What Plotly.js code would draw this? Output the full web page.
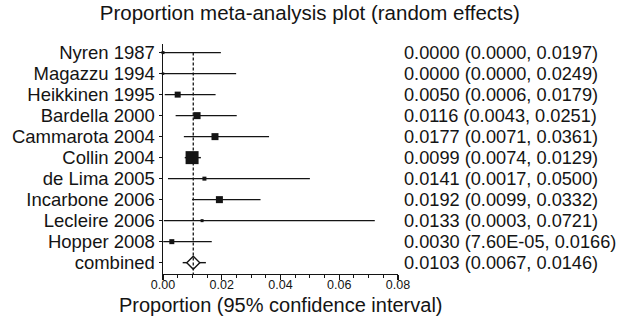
<!DOCTYPE html>
<html>
<head>
<meta charset="utf-8">
<script src="https://cdn.plot.ly/plotly-3.0.1.min.js"></script>
<style>html,body{margin:0;padding:0;background:#fff;}#chart{width:631px;height:322px;}</style>
</head>
<body>
<div id="chart"></div>
<script>
const studies = ["Nyren 1987","Magazzu 1994","Heikkinen 1995","Bardella 2000","Cammarota 2004","Collin 2004","de Lima 2005","Incarbone 2006","Lecleire 2006","Hopper 2008"];
const estimate = [0.0000,0.0000,0.0050,0.0116,0.0177,0.0099,0.0141,0.0192,0.0133,0.0030];
const lower    = [0.0000,0.0000,0.0006,0.0043,0.0071,0.0074,0.0017,0.0099,0.0003,0.0000760];
const upper    = [0.0197,0.0249,0.0179,0.0251,0.0361,0.0129,0.0500,0.0332,0.0721,0.0166];
const combinedLabel = "combined";
const combinedEst = 0.0103, combinedLo = 0.0067, combinedHi = 0.0146;
const xTickVals = [0,0.02,0.04,0.06,0.08];
const xAxisTitle = "Proportion (95% confidence interval)";
const chartTitle = "Proportion meta-analysis plot (random effects)";

const markerSizes = [3,2.5,6,7,7,13,4,7,3,5];
const ink = "#141414";
const FONT = "Liberation Sans, Arial, Helvetica, sans-serif";

function fmt(v){
  if (v > 0 && v < 0.0001){
    const e = v.toExponential(2).toUpperCase();
    return e.replace(/E([+-])(\d)$/, "E$10$2");
  }
  return v.toFixed(4);
}

const rows = studies.map((s,i)=>i);
const comboRow = studies.length;

const traces = [
  {
    type: "scatter", mode: "markers",
    x: estimate, y: rows,
    marker: {symbol: "square", size: markerSizes, color: ink, opacity: 1, line: {width: 0}},
    error_x: {type: "data", symmetric: false,
      array: upper.map((u,i)=>u-estimate[i]),
      arrayminus: lower.map((l,i)=>estimate[i]-l),
      color: ink, thickness: 1.4, width: 0},
    cliponaxis: false, showlegend: false, hoverinfo: "skip"
  },
  {
    type: "scatter", mode: "markers",
    x: [combinedEst], y: [comboRow],
    marker: {symbol: "diamond", size: 10, color: "#ffffff", opacity: 1, line: {width: 1.4, color: ink}},
    error_x: {type: "data", symmetric: false,
      array: [combinedHi-combinedEst], arrayminus: [combinedEst-combinedLo],
      color: ink, thickness: 1.4, width: 0},
    cliponaxis: false, showlegend: false, hoverinfo: "skip"
  }
];

const allLabels = studies.concat([combinedLabel]);
const allEst = estimate.concat([combinedEst]);
const allLo = lower.concat([combinedLo]);
const allHi = upper.concat([combinedHi]);

const annotations = allLabels.map((s,i)=>({
  xref: "paper", yref: "y", x: 1.017, y: i, xanchor: "left", yanchor: "middle",
  text: fmt(allEst[i]) + " (" + fmt(allLo[i]) + ", " + fmt(allHi[i]) + ")",
  showarrow: false, font: {family: FONT, size: 18.2, color: ink}
}));
annotations.push({
  xref: "paper", yref: "paper", x: 0.504, y: -0.078, xanchor: "center", yanchor: "top",
  text: xAxisTitle, showarrow: false, font: {family: FONT, size: 20, color: ink}
});

const layout = {
  width: 631, height: 322,
  margin: {l: 163, r: 233, t: 44, b: 48, pad: 0},
  paper_bgcolor: "#fff", plot_bgcolor: "#fff",
  font: {family: FONT, color: ink},
  title: {text: chartTitle, font: {family: FONT, size: 20.5, color: ink},
    x: 0.491, xanchor: "center", xref: "container", y: 0.96, yanchor: "middle", yref: "container"},
  xaxis: {
    range: [0, 0.08], showgrid: false, zeroline: false,
    showline: true, linecolor: ink, linewidth: 1.4,
    tickmode: "array", tickvals: xTickVals, ticktext: xTickVals.map(v=>v.toFixed(2)),
    ticks: "outside", ticklen: 5, tickwidth: 1.2, tickcolor: ink, ticklabelstandoff: -6,
    minor: {dtick: 0.005, tick0: 0, ticks: "outside", ticklen: 3, tickwidth: 1, tickcolor: ink, showgrid: false},
    tickfont: {family: FONT, size: 12.5, color: ink}
  },
  yaxis: {
    range: [10.54, -0.41], showgrid: false, zeroline: false,
    showline: true, linecolor: ink, linewidth: 1.4,
    tickmode: "array", tickvals: allLabels.map((s,i)=>i), ticktext: allLabels,
    ticks: "outside", ticklen: 3, tickwidth: 1, tickcolor: ink,
    tickfont: {family: FONT, size: 18.5, color: ink}
  },
  shapes: [{
    type: "line", xref: "x", yref: "y", x0: combinedEst, x1: combinedEst, y0: 0, y1: 10.54,
    line: {color: ink, width: 1.3, dash: "3px,2px"}
  }],
  annotations: annotations
};

Plotly.newPlot("chart", traces, layout, {staticPlot: true, displayModeBar: false});
</script>
</body>
</html>
